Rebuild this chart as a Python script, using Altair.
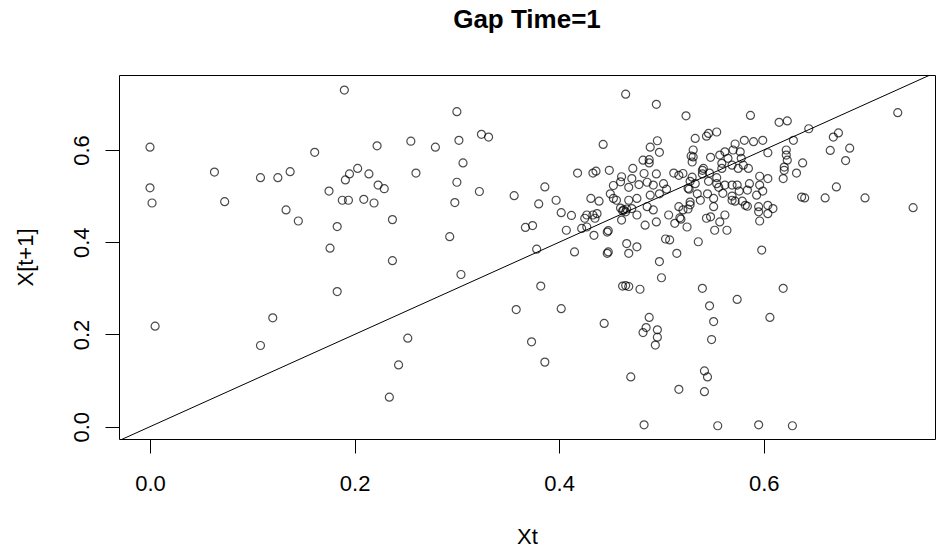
import altair as alt
import pandas as pd

# Lag-1 scatter: value at time t against value at time t+1
xt = [
    0.000, 0.000, 0.002, 0.005, 0.063, 0.073, 0.108, 0.108, 0.120, 0.125,
    0.133, 0.137, 0.145, 0.161, 0.175, 0.176, 0.183, 0.183, 0.188, 0.190,
    0.191, 0.194, 0.195, 0.203, 0.209, 0.214, 0.219, 0.222, 0.223, 0.229,
    0.234, 0.237, 0.237, 0.243, 0.252, 0.255, 0.260, 0.279, 0.293, 0.298,
    0.300, 0.300, 0.302, 0.304, 0.306, 0.322, 0.324, 0.331, 0.356, 0.358,
    0.367, 0.373, 0.374, 0.378, 0.380, 0.382, 0.386, 0.386, 0.397, 0.402,
    0.402, 0.407, 0.412, 0.415, 0.418,
    0.444, 0.462, 0.465, 0.468, 0.479, 0.488, 0.485, 0.482, 0.496, 0.496,
    0.494, 0.500, 0.498, 0.547, 0.574, 0.551, 0.549, 0.606, 0.540, 0.619,
    0.470, 0.542, 0.545, 0.517, 0.542, 0.483, 0.555, 0.595, 0.628,
    0.447, 0.448, 0.466, 0.476, 0.468, 0.515, 0.504, 0.508, 0.536, 0.598,
    0.465, 0.495, 0.524, 0.443, 0.496, 0.489, 0.533, 0.544, 0.546, 0.554,
    0.587, 0.615, 0.623, 0.644, 0.668, 0.673, 0.731, 0.572, 0.581, 0.590,
    0.599, 0.629, 0.531, 0.622, 0.684, 0.665, 0.498,
    0.680, 0.638, 0.671, 0.660, 0.699, 0.746, 0.637, 0.640,
    0.482, 0.488, 0.488, 0.529, 0.433, 0.436, 0.449, 0.472, 0.461, 0.460,
    0.471, 0.483, 0.495, 0.486, 0.478, 0.492, 0.502, 0.512, 0.517, 0.521,
    0.530, 0.528, 0.527, 0.453, 0.468,
    0.431, 0.439, 0.453, 0.456, 0.468, 0.476, 0.489, 0.460, 0.463, 0.465,
    0.462, 0.466, 0.471, 0.476, 0.461, 0.427, 0.425, 0.433, 0.437, 0.435,
    0.422, 0.427, 0.434, 0.447, 0.448, 0.484, 0.486, 0.492, 0.495, 0.507,
    0.513, 0.525, 0.518, 0.519, 0.517, 0.521, 0.526, 0.526, 0.505, 0.450,
    0.498,
    0.535, 0.545, 0.560, 0.569, 0.576, 0.584, 0.599, 0.528, 0.538, 0.528,
    0.551, 0.551, 0.569, 0.572, 0.579, 0.582, 0.584, 0.593, 0.595, 0.604,
    0.609, 0.604, 0.595, 0.596, 0.544, 0.548, 0.557, 0.562, 0.552, 0.564,
    0.557, 0.562, 0.565, 0.570, 0.577, 0.578, 0.559, 0.559, 0.569, 0.575,
    0.580, 0.585, 0.604, 0.622, 0.623, 0.620, 0.620, 0.632, 0.619, 0.596,
    0.604, 0.586, 0.596, 0.569, 0.574, 0.562, 0.554, 0.548, 0.531, 0.541,
    0.540, 0.530, 0.540, 0.547, 0.554, 0.533, 0.546, 0.556,
]
xt1 = [
    0.606, 0.518, 0.485, 0.218, 0.552, 0.488, 0.540, 0.176, 0.236, 0.540,
    0.470, 0.553, 0.446, 0.595, 0.511, 0.387, 0.434, 0.293, 0.491, 0.730,
    0.535, 0.491, 0.548, 0.560, 0.493, 0.548, 0.485, 0.609, 0.524, 0.516,
    0.064, 0.449, 0.360, 0.134, 0.192, 0.619, 0.550, 0.606, 0.412, 0.486,
    0.683, 0.530, 0.621, 0.330, 0.572, 0.510, 0.634, 0.628, 0.501, 0.254,
    0.432, 0.184, 0.436, 0.385, 0.483, 0.305, 0.520, 0.140, 0.491, 0.464,
    0.256, 0.426, 0.458, 0.379, 0.550,
    0.224, 0.305, 0.306, 0.304, 0.298, 0.237, 0.215, 0.204, 0.210, 0.194,
    0.177, 0.323, 0.358, 0.262, 0.276, 0.228, 0.189, 0.237, 0.300, 0.300,
    0.108, 0.121, 0.108, 0.081, 0.076, 0.004, 0.002, 0.004, 0.002,
    0.376, 0.379, 0.397, 0.390, 0.376, 0.376, 0.407, 0.405, 0.401, 0.383,
    0.721, 0.699, 0.674, 0.612, 0.620, 0.606, 0.625, 0.630, 0.636, 0.639,
    0.675, 0.660, 0.663, 0.646, 0.628, 0.637, 0.681, 0.613, 0.621, 0.618,
    0.621, 0.621, 0.600, 0.600, 0.604, 0.599, 0.595,
    0.577, 0.572, 0.520, 0.496, 0.496, 0.475, 0.498, 0.496,
    0.578, 0.579, 0.572, 0.587, 0.550, 0.554, 0.556, 0.560, 0.542, 0.531,
    0.538, 0.549, 0.548, 0.530, 0.525, 0.524, 0.527, 0.550, 0.545, 0.549,
    0.574, 0.532, 0.515, 0.523, 0.519,
    0.495, 0.489, 0.495, 0.491, 0.491, 0.495, 0.502, 0.474, 0.470, 0.466,
    0.468, 0.472, 0.473, 0.459, 0.448, 0.459, 0.452, 0.459, 0.462, 0.452,
    0.430, 0.433, 0.415, 0.422, 0.425, 0.437, 0.477, 0.470, 0.444, 0.459,
    0.441, 0.433, 0.453, 0.450, 0.477, 0.470, 0.472, 0.517, 0.515, 0.505,
    0.505,
    0.505, 0.505, 0.506, 0.500, 0.511, 0.513, 0.511, 0.487, 0.491, 0.481,
    0.495, 0.477, 0.491, 0.489, 0.489, 0.480, 0.478, 0.502, 0.477, 0.480,
    0.473, 0.462, 0.466, 0.446, 0.452, 0.455, 0.444, 0.459, 0.426, 0.426,
    0.589, 0.596, 0.582, 0.600, 0.596, 0.582, 0.571, 0.560, 0.567, 0.560,
    0.567, 0.560, 0.594, 0.589, 0.578, 0.563, 0.556, 0.550, 0.538, 0.543,
    0.538, 0.527, 0.524, 0.524, 0.524, 0.524, 0.527, 0.584, 0.585, 0.560,
    0.556, 0.541, 0.548, 0.550, 0.540, 0.527, 0.532, 0.519,
]

x_ticks = [0.0, 0.2, 0.4, 0.6]
y_ticks = [0.0, 0.2, 0.4, 0.6]
x_domain = [-0.0303, 0.7674]
y_domain = [-0.0267, 0.7626]

points = pd.DataFrame({"Xt": xt, "Xt1": xt1})
# identity reference line y = x, clipped to the plot box
diag = pd.DataFrame({"Xt": [-0.1, 0.9], "Xt1": [-0.1, 0.9]})

FONT = "Liberation Sans"

x_scale = alt.Scale(domain=x_domain, nice=False, zero=False)
y_scale = alt.Scale(domain=y_domain, nice=False, zero=False)

x_axis = alt.Axis(
    title="Xt", values=x_ticks, format=".1f", grid=False, domain=False,
    tickColor="black", tickSize=14, tickWidth=1,
    labelFont=FONT, labelFontSize=22, labelColor="black",
    labelBaseline="alphabetic", labelPadding=37, labelFlush=False,
    titleFont=FONT, titleFontSize=22, titleFontWeight="normal", titleColor="black",
    titleBaseline="alphabetic", titleX=408, titleY=104, titleAlign="center",
)
y_axis = alt.Axis(
    title="X[t+1]", values=y_ticks, format=".1f", grid=False, domain=False,
    tickColor="black", tickSize=14, tickWidth=1,
    labelFont=FONT, labelFontSize=22, labelColor="black", labelAngle=270,
    labelAlign="center", labelBaseline="alphabetic", labelPadding=17,
    labelFlush=False,
    titleFont=FONT, titleFontSize=22, titleFontWeight="normal", titleColor="black",
    titleAngle=270, titleBaseline="alphabetic", titleX=-87, titleY=182,
    titleAlign="center",
)

scatter = alt.Chart(points).mark_point(
    shape="circle", filled=False, color="black", size=64, strokeWidth=1.2
).encode(
    x=alt.X("Xt:Q", scale=x_scale, axis=x_axis),
    y=alt.Y("Xt1:Q", scale=y_scale, axis=y_axis),
)

line = alt.Chart(diag).mark_line(color="black", strokeWidth=1, clip=True).encode(
    x=alt.X("Xt:Q", scale=x_scale),
    y=alt.Y("Xt1:Q", scale=y_scale),
)

chart = alt.layer(line, scatter).properties(
    width=816,
    height=364,
    background="white",
    title=alt.TitleParams(
        "Gap Time=1", font=FONT, fontSize=26, fontWeight="bold", color="black",
        anchor="middle", baseline="alphabetic", offset=21,
    ),
    autosize=alt.AutoSizeParams(type="none"),
    padding={"left": 119, "top": 75, "right": 1, "bottom": 112},
).configure_view(
    stroke="black", strokeWidth=1, strokeOpacity=1
)

chart.save("out.html", embed_options={"renderer": "svg", "actions": False})
